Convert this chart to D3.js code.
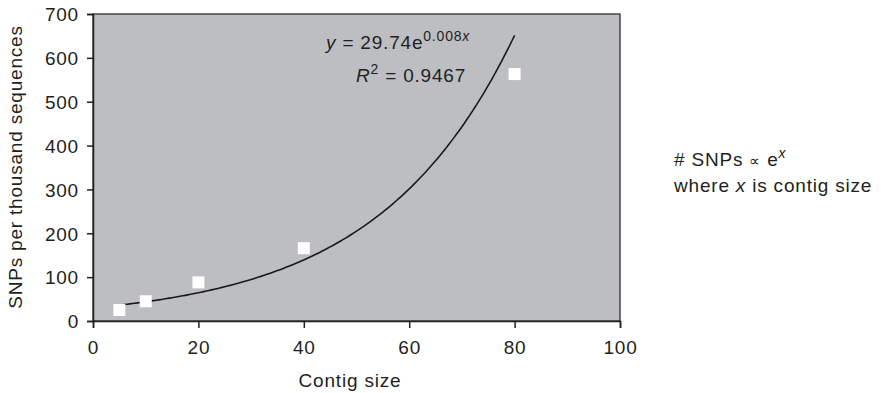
<!DOCTYPE html>
<html><head><meta charset="utf-8">
<script src="https://cdn.jsdelivr.net/npm/d3@7"></script>
<style>
body{margin:0;background:#fff;}
text{font-family:"Liberation Sans",Arial,sans-serif;fill:#231f20;letter-spacing:0.8px;}
</style></head>
<body>
<svg id="chart" width="881" height="393"></svg>
<script>
const contigSize = [5, 10, 20, 40, 80];
const snpsPerThousand = [25, 45, 88, 166, 563];
const xTicks = [0, 20, 40, 60, 80, 100];
const yTicks = [0, 100, 200, 300, 400, 500, 600, 700];
const xLabel = "Contig size";
const yLabel = "SNPs per thousand sequences";

// exponential least-squares fit on ln(y)
const lny = snpsPerThousand.map(Math.log);
const mx = d3.mean(contigSize), my = d3.mean(lny);
const b = d3.sum(contigSize.map((x,i)=>(x-mx)*(lny[i]-my))) / d3.sum(contigSize.map(x=>(x-mx)**2));
const a = Math.exp(my - b*mx);

const FS = 19;
const svg = d3.select("#chart");
const L=93, R=620, T=14, B=321;
const x = d3.scaleLinear().domain([0,100]).range([L,R]);
const y = d3.scaleLinear().domain([0,700]).range([B,T]);

svg.append("rect").attr("x",L).attr("y",T).attr("width",R-L).attr("height",B-T)
  .attr("fill","#bdbec2").attr("stroke","#231f20").attr("stroke-width",1.2);

const gx = svg.append("g").attr("transform",`translate(0,${B})`)
  .call(d3.axisBottom(x).tickValues(xTicks).tickSize(7).tickPadding(13).tickFormat(d3.format("d")));
const gy = svg.append("g").attr("transform",`translate(${L},0)`)
  .call(d3.axisLeft(y).tickValues(yTicks).tickSize(6).tickPadding(8).tickFormat(d3.format("d")));
[gx,gy].forEach(g=>{
  g.select(".domain").attr("stroke","#231f20").attr("stroke-width",1.5);
  g.selectAll(".tick line").attr("stroke","#231f20").attr("stroke-width",1.5);
  g.selectAll(".tick text").attr("font-size",FS).attr("fill","#231f20")
   .style("font-family","'Liberation Sans',Arial,sans-serif");
});
gy.selectAll(".tick text").attr("dy","0.36em");

// trend line
const xs = d3.range(5, 80.01, 0.5);
svg.append("path").datum(xs)
  .attr("d", d3.line().x(d=>x(d)).y(d=>y(a*Math.exp(b*d))))
  .attr("fill","none").attr("stroke","#1a1a1a").attr("stroke-width",1.6);

// points
svg.selectAll("rect.pt").data(contigSize).enter().append("rect").attr("class","pt")
  .attr("x",(d)=>x(d)-6).attr("y",(d,i)=>y(snpsPerThousand[i])-6)
  .attr("width",12).attr("height",12).attr("fill","#fff");

// axis titles
svg.append("text").attr("x",350).attr("y",387).attr("text-anchor","middle")
  .attr("font-size",FS).text(xLabel);
svg.append("text").attr("transform",`translate(22,167) rotate(-90)`)
  .attr("text-anchor","middle").attr("font-size",FS).text(yLabel);

// equation
const eq = svg.append("text").attr("x",326).attr("y",49).attr("font-size",FS);
eq.append("tspan").attr("font-style","italic").text("y");
eq.append("tspan").text(" = 29.74e");
eq.append("tspan").attr("font-size",14).attr("dy",-8).text("0.008");
eq.append("tspan").attr("font-size",14).attr("font-style","italic").text("x");
const r2 = svg.append("text").attr("x",356).attr("y",82).attr("font-size",FS);
r2.append("tspan").attr("font-style","italic").text("R");
r2.append("tspan").attr("font-size",14).attr("dy",-8).text("2");
r2.append("tspan").attr("dy",8).text(" = 0.9467");

// annotation
const an1 = svg.append("text").attr("x",674).attr("y",166).attr("font-size",FS);
an1.append("tspan").text("# SNPs ");
an1.append("tspan").attr("font-size",15).text("\u221D");
an1.append("tspan").text(" e");
an1.append("tspan").attr("font-size",14).attr("dy",-8).attr("font-style","italic").text("x");
const an2 = svg.append("text").attr("x",674).attr("y",192).attr("font-size",FS);
an2.append("tspan").text("where ");
an2.append("tspan").attr("font-style","italic").text("x");
an2.append("tspan").text(" is contig size");
</script>
</body></html>
